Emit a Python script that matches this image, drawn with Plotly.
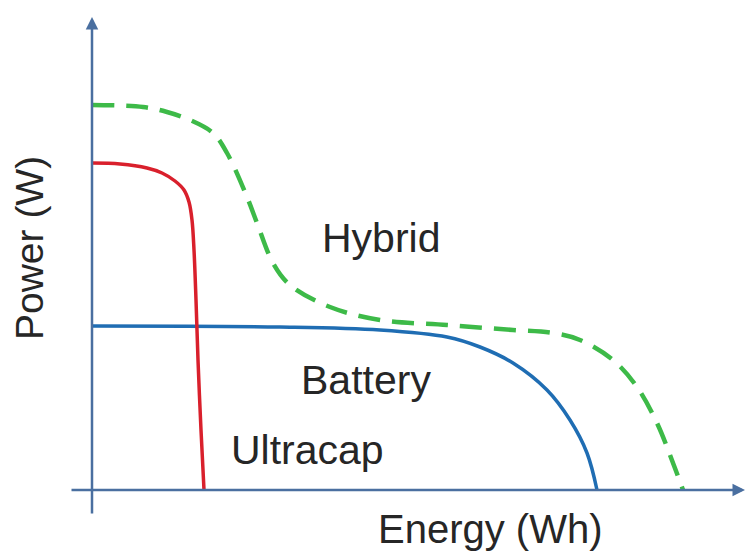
import plotly.graph_objects as go

# Data (energy units, power units)
ultracap_energy = [0, 0.56, 1.10, 1.40, 1.66, 1.84, 1.94, 2.00, 2.04, 2.08, 2.12, 2.18, 2.24]
ultracap_power = [6.54, 6.52, 6.44, 6.34, 6.18, 6.00, 5.76, 5.40, 4.80, 3.80, 2.60, 1.20, 0]

battery_energy = [0, 3.76, 5.76, 7.10, 7.76, 8.42, 9.10, 9.56, 9.90, 10.10]
battery_power = [3.28, 3.26, 3.20, 3.06, 2.86, 2.54, 2.00, 1.40, 0.74, 0]

hybrid_energy = [0, 1.02, 1.50, 1.96, 2.42, 2.70, 3.10, 3.30, 3.62, 3.96, 4.76, 5.76,
                 7.10, 8.42, 9.22, 9.76, 10.42, 10.90, 11.30, 11.62, 11.82]
hybrid_power = [7.70, 7.66, 7.56, 7.40, 7.14, 6.74, 5.86, 5.34, 4.54, 4.10, 3.66, 3.40,
                3.30, 3.20, 3.14, 3.00, 2.60, 2.06, 1.34, 0.54, 0]

labels = ["Hybrid", "Battery", "Ultracap"]
label_x = [5.78, 5.48, 4.30]
label_y = [5.04, 2.20, 0.80]

AXIS = "#4a6fa0"
FONT = "Liberation Sans, Arial, sans-serif"

fig = go.Figure()
fig.add_trace(go.Scatter(x=hybrid_energy, y=hybrid_power, mode="lines",
                         line=dict(color="#3dba48", width=4.5, dash="22px,12px", shape="spline"),
                         showlegend=False, hoverinfo="skip"))
fig.add_trace(go.Scatter(x=battery_energy, y=battery_power, mode="lines",
                         line=dict(color="#1f6db3", width=3.5, shape="spline"),
                         showlegend=False, hoverinfo="skip"))
fig.add_trace(go.Scatter(x=ultracap_energy, y=ultracap_power, mode="lines",
                         line=dict(color="#d9202c", width=3.5, shape="spline"),
                         showlegend=False, hoverinfo="skip"))

for t, x, y in zip(labels, label_x, label_y):
    fig.add_annotation(x=x, y=y, text=t, showarrow=False,
                       font=dict(family=FONT, size=41, color="#262626"))

# Axes with arrows
fig.add_annotation(x=13.06, y=0, ax=-0.44, ay=0, axref="x", ayref="y", xref="x", yref="y",
                   text="", showarrow=True, arrowhead=2, arrowsize=1, arrowwidth=2.5,
                   arrowcolor=AXIS)
fig.add_annotation(x=0, y=9.46, ax=0, ay=-0.5, axref="x", ayref="y", xref="x", yref="y",
                   text="", showarrow=True, arrowhead=2, arrowsize=1, arrowwidth=2.5,
                   arrowcolor=AXIS)

fig.add_annotation(x=7.96, y=-0.78, text="Energy (Wh)", showarrow=False,
                   font=dict(family=FONT, size=40, color="#262626"))
fig.add_annotation(x=-1.26, y=4.84, text="Power (W)", showarrow=False, textangle=-90,
                   font=dict(family=FONT, size=39, color="#262626"))

fig.update_layout(
    width=746, height=556,
    margin=dict(l=0, r=0, t=0, b=0),
    paper_bgcolor="white", plot_bgcolor="white",
    xaxis=dict(range=[-1.84, 13.08], visible=False),
    yaxis=dict(range=[-1.32, 9.8], visible=False),
)

fig.write_html("out.html", config={"displayModeBar": False},
               post_script="document.body.style.margin='0';")
